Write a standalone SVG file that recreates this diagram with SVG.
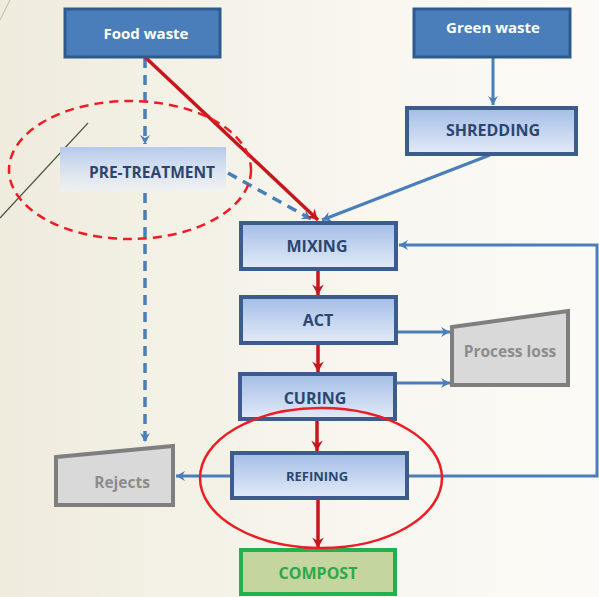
<svg xmlns="http://www.w3.org/2000/svg" width="599" height="597" viewBox="0 0 599 597">
<defs>
<linearGradient id="bg" x1="0" y1="0" x2="1" y2="0">
<stop offset="0" stop-color="#efebdd"/><stop offset="0.6" stop-color="#f8f6ef"/><stop offset="1" stop-color="#fbfaf6"/>
</linearGradient>
<linearGradient id="lb" x1="0" y1="0" x2="0" y2="1">
<stop offset="0" stop-color="#a3bde6"/><stop offset="1" stop-color="#e3ebf8"/>
</linearGradient>
<linearGradient id="pt" x1="0" y1="0" x2="0" y2="1">
<stop offset="0" stop-color="#b4c9ec"/><stop offset="1" stop-color="#eef2f8" stop-opacity="0.6"/>
</linearGradient>
<marker id="ab" viewBox="0 0 12 12" refX="10" refY="6" markerWidth="12" markerHeight="12" markerUnits="userSpaceOnUse" orient="auto">
<path d="M1,1 L10,6 L1,11 L4,6 Z" fill="#4a7ebb"/>
</marker>
<marker id="ar" viewBox="0 0 12 12" refX="10" refY="6" markerWidth="14" markerHeight="14" markerUnits="userSpaceOnUse" orient="auto">
<path d="M1,1 L10,6 L1,11 L4,6 Z" fill="#c8161d"/>
</marker>
<style>
.dark{fill:#4a7ebb;stroke:#2f5a8e;stroke-width:3}
.light{fill:url(#lb);stroke:#3b5c8c;stroke-width:4}
.wt{font-family:"Open Sans","Liberation Sans",sans-serif;font-weight:bold;font-size:15px;fill:#ffffff;text-anchor:middle}
.bt{font-family:"Open Sans","Liberation Sans",sans-serif;font-weight:bold;font-size:16px;fill:#2b4670;text-anchor:middle}
.gt{font-family:"Open Sans","Liberation Sans",sans-serif;font-weight:bold;font-size:15.5px;fill:#8c8c8c;text-anchor:middle}
.gray{fill:#d9d9d9;stroke:#7f7f7f;stroke-width:4}
.bl{stroke:#4a7ebb;stroke-width:3;fill:none}
.bd{stroke:#4a7ebb;stroke-width:3.5;fill:none;stroke-dasharray:10,7}
.rd{stroke:#c8161d;stroke-width:3.5;fill:none}
</style>
</defs>
<rect width="599" height="597" fill="url(#bg)"/>
<line x1="0" y1="218" x2="88" y2="123" stroke="#4d5a4a" stroke-width="1.2"/>
<line x1="0" y1="20" x2="10" y2="0" stroke="#b8b8a8" stroke-width="1"/>

<g id="connectors">
<line class="bd" x1="145" y1="58" x2="145" y2="144" marker-end="url(#ab)"/>
<line class="bd" x1="145" y1="193" x2="145" y2="442" marker-end="url(#ab)"/>
<line class="bd" x1="228" y1="173" x2="311" y2="219" marker-end="url(#ab)"/>
<line class="rd" x1="145" y1="57" x2="318" y2="220" marker-end="url(#ar)"/>
<line class="bl" x1="490" y1="155" x2="322" y2="220" marker-end="url(#ab)"/>
<line class="bl" x1="493" y1="57" x2="493" y2="105" marker-end="url(#ab)"/>
<line class="rd" x1="318" y1="270" x2="318" y2="295" marker-end="url(#ar)"/>
<line class="rd" x1="318" y1="344" x2="318" y2="372" marker-end="url(#ar)"/>
<line class="rd" x1="317" y1="420" x2="317" y2="451" marker-end="url(#ar)"/>
<line class="rd" x1="318" y1="499" x2="318" y2="548" marker-end="url(#ar)"/>
<line class="bl" x1="398" y1="332" x2="450" y2="332" marker-end="url(#ab)"/>
<line class="bl" x1="396" y1="383" x2="450" y2="383" marker-end="url(#ab)"/>
<line class="bl" x1="230" y1="476" x2="176" y2="476" marker-end="url(#ab)"/>
<polyline class="bl" points="408,476 597,476 597,245 399,245" marker-end="url(#ab)"/>
</g>

<g id="food-waste"><rect class="dark" x="65" y="9" width="155" height="48"/><text class="wt" x="146" y="39">Food waste</text></g>
<g id="green-waste"><rect class="dark" x="414" y="9" width="156" height="48"/><text class="wt" x="493" y="33">Green waste</text></g>
<g id="shredding"><rect class="light" x="407" y="108" width="169" height="46"/><text class="bt" x="493" y="136">SHREDDING</text></g>
<g id="pre-treatment"><rect x="60" y="147" width="166" height="45" fill="url(#pt)"/><text class="bt" x="152" y="178" style="font-size:15.5px">PRE-TREATMENT</text></g>
<g id="mixing"><rect class="light" x="241" y="223" width="155" height="46"/><text class="bt" x="317" y="252">MIXING</text></g>
<g id="act"><rect class="light" x="241" y="297" width="155" height="46"/><text class="bt" x="318" y="326">ACT</text></g>
<g id="curing"><rect class="light" x="240" y="374" width="155" height="45"/><text class="bt" x="315" y="404">CURING</text></g>
<g id="refining"><rect class="light" x="232" y="453" width="175" height="45"/><text class="bt" x="317" y="481" style="font-size:13px">REFINING</text></g>
<g id="compost"><rect x="241" y="550" width="154" height="44" fill="#c4d59f" stroke="#22b14c" stroke-width="4"/><text class="bt" x="318" y="579" style="fill:#2da84a">COMPOST</text></g>
<g id="rejects"><polygon class="gray" points="56,457 173,446 173,505 56,505"/><text class="gt" x="122" y="488">Rejects</text></g>
<g id="process-loss"><polygon class="gray" points="452,327 568,311 568,385 452,385"/><text class="gt" x="510" y="357">Process loss</text></g>

<ellipse cx="130" cy="170" rx="121" ry="69" fill="none" stroke="#ee1c24" stroke-width="2.5" stroke-dasharray="9,6"/>
<ellipse cx="321" cy="478" rx="121" ry="70" fill="none" stroke="#ee1c24" stroke-width="2.5"/>
</svg>
